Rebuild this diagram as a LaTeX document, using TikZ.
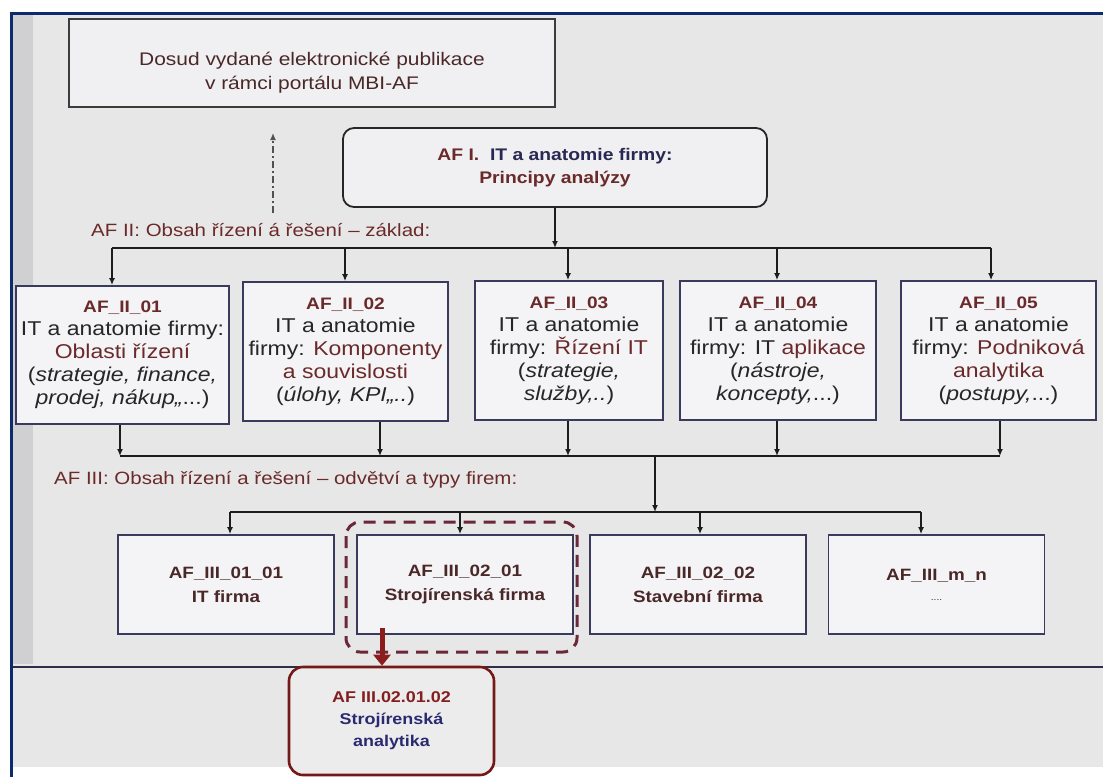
\documentclass[tikz,border=0pt]{standalone}
\usepackage{fontspec}
\setmainfont[FakeStretch=1.15]{Liberation Sans}
\usetikzlibrary{arrows.meta}

\definecolor{afnavy}{HTML}{0C2A6C}
\definecolor{afred}{HTML}{6B2A2A}
\definecolor{afbrown}{HTML}{4A2828}
\definecolor{afdark}{HTML}{262626}
\definecolor{afblue}{HTML}{2A2A70}
\definecolor{afline}{HTML}{1C1C1C}
\definecolor{boxline}{HTML}{3A3A5C}
\definecolor{boxfill}{HTML}{F4F4F7}
\definecolor{bggray}{HTML}{E7E7E7}
\definecolor{stripgray}{HTML}{D0D0D2}
\definecolor{hlred}{HTML}{6A2838}
\definecolor{arrred}{HTML}{8A1C1C}

\begin{document}
\begin{tikzpicture}[x=1pt, y=-1pt,
  outerframe/.style={draw=afnavy, line width=3pt},
  box/.style={draw=boxline, line width=1.8pt, fill=boxfill, inner sep=0pt,
    align=center, text=afdark, font=\fontsize{20}{23}\selectfont},
  firmbox/.style={box, minimum width=216pt, minimum height=99pt,
    text=afbrown, font=\bfseries\fontsize{16.4}{24}\selectfont},
  arr/.style={draw=afline, line width=1.4pt, -{Latex[length=7pt,width=6pt]}},
  bus/.style={draw=afline, line width=1.4pt},
  bustext/.style={anchor=west, inner sep=0pt, text=afred,
    font=\fontsize{17.8}{22}\selectfont}]
  \newcommand\yA{248}
  \newcommand\yB{456}
  \newcommand\yC{512}
  \newcommand\rt[1]{\textcolor{afred}{#1}}
  \newcommand\hd[1]{{\bfseries\fontsize{16.6}{23}\selectfont\textcolor{afred}{#1}}}
  \useasboundingbox (0,0) rectangle (1103,777);

  % background and frame
  \fill[white] (0,0) rectangle (1103,777);
  \fill[bggray] (11,13) rectangle (1103,767);
  \fill[stripgray] (13,15) rectangle (33,664);
  \draw[outerframe] (9.5,13.5) -- (1103,13.5);
  \draw[outerframe] (11,12) -- (11,777);
  \draw[draw=boxline!80!black, line width=2pt] (12.5,667) -- (1103,667);

  % top
  \node[box, draw=afdark!90, fill=boxfill!70!bggray, minimum width=486pt, minimum height=88pt,
    text=afbrown, font=\fontsize{18.2}{24}\selectfont]
    (pub) at (312,63) {\rule{0pt}{33pt}Dosud vydané elektronické publikace\\v rámci portálu MBI-AF};
  \node[box, draw=afdark, fill=boxfill!70!bggray, rounded corners=11pt, minimum width=424pt,
    minimum height=79pt, text=afblue!60!afdark, font=\bfseries\fontsize{16.8}{23}\selectfont]
    (afI) at (555,167.5) {\rt{AF I.}\ \ IT a anatomie firmy:\\\rt{Principy analýzy}};
  \coordinate (dd1) at (273,213);
  \coordinate (dd2) at (273,133);
  \draw[draw=afdark!80, line width=1.4pt, dash pattern=on 7pt off 3pt on 2pt off 3pt,
    -{Latex[length=7pt,width=6pt]}] (dd1) -- (dd2);
  \node[bustext] (lblII) at (91,230) {AF II: Obsah řízení á řešení – základ:};

  % AF II row
  \node[box, minimum width=213pt, minimum height=138pt] (ii1) at (122.5,355)
    {\hd{AF\_II\_01}\\IT a anatomie firmy:\\\rt{Oblasti řízení}\\(\textit{strategie, finance,}\\\textit{prodej, nákup,,}...)};
  \node[box, minimum width=205pt, minimum height=139pt] (ii2) at (345.5,351.5)
    {\hd{AF\_II\_02}\\IT a anatomie\\firmy: \rt{Komponenty}\\\rt{a souvislosti}\\(\textit{úlohy, KPI,,..})};
  \node[box, minimum width=188pt, minimum height=139pt] (ii3) at (569,350.5)
    {\hd{AF\_II\_03}\\IT a anatomie\\firmy: \rt{Řízení IT}\\(\textit{strategie,}\\\textit{služby,..})};
  \node[box, minimum width=196pt, minimum height=139pt] (ii4) at (778,350.5)
    {\hd{AF\_II\_04}\\IT a anatomie\\firmy: IT \rt{aplikace}\\(\textit{nástroje,}\\\textit{koncepty,}...)};
  \node[box, minimum width=195pt, minimum height=139pt] (ii5) at (998.5,350.5)
    {\hd{AF\_II\_05}\\IT a anatomie\\firmy: \rt{Podniková}\\\rt{analytika}\\(\textit{postupy,}...)};

  \draw[arr] (afI.south) -- (afI.south |- 0,\yA);
  \foreach \i/\xa/\xb in {1/112/120, 2/345/380, 3/568/568, 4/777/777, 5/991/1000} {
    \coordinate (a\i) at (\xa,\yA);
    \coordinate (b\i) at (\xb,\yB);
    \draw[arr] (a\i) -- (a\i |- ii\i.north);
    \draw[arr] (b\i |- ii\i.south) -- (b\i);
  }
  \draw[bus] (a1) -- (a5);
  \draw[bus] (b1) -- (b5);

  \node[bustext] (lblIII) at (54,480) {AF III: Obsah řízení a řešení – odvětví a typy firem:};

  % AF III row
  \node[firmbox] (iiiA) at (226,584.5) {AF\_III\_01\_01\\IT firma};
  \node[firmbox] (iiiB) at (465,584.5) {AF\_III\_02\_01\\Strojírenská firma};
  \node[firmbox] (iiiC) at (698,584.5) {AF\_III\_02\_02\\Stavební firma};
  \node[firmbox] (iiiD) at (936.5,584.5) {AF\_III\_m\_n\\[-4pt]{\mdseries\small ....}};

  \coordinate (drop) at (655,\yB);
  \draw[arr] (drop) -- (drop |- 0,\yC);
  \foreach \n/\xc in {A/230, B/460, C/700, D/921} {
    \coordinate (c\n) at (\xc,\yC);
    \draw[arr] (c\n) -- (c\n |- iii\n.north);
  }
  \draw[bus] (cA) -- (cD);

  % highlight
  \draw[draw=hlred, line width=3pt, dash pattern=on 12pt off 8pt, rounded corners=14pt]
    (346,522) rectangle (577,652);
  \node[box, draw=arrred!85!black, line width=2.6pt, fill=bggray!60!boxfill, rounded corners=14pt,
    minimum width=205pt, minimum height=108pt, text=afblue,
    font=\bfseries\fontsize{15.6}{22}\selectfont]
    (ana) at (391.5,721) {\textcolor{arrred!80!afred}{AF III.02.01.02}\\Strojírenská\\analytika};
  \coordinate (rtop) at (382,628);
  \draw[draw=arrred, line width=5pt, -{Triangle[length=11pt,width=17pt]}] (rtop) -- (rtop |- ana.north);
\end{tikzpicture}
\end{document}
